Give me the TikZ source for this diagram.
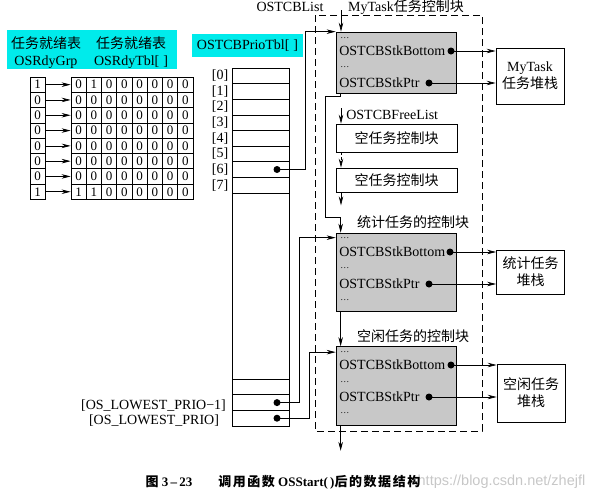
\documentclass[tikz,border=0pt]{standalone}
\usepackage{fontspec}
\setmainfont{Liberation Serif}
\setsansfont{Liberation Sans}
\newfontfamily\cjk{Noto Sans CJK SC}
\newfontfamily\cjkcap{Noto Sans CJK SC}[LetterSpace=12]
\usepackage{tikz}
\usetikzlibrary{arrows.meta}

\definecolor{lblcyan}{RGB}{0,235,235}
\definecolor{tcbgray}{RGB}{200,200,200}

\tikzset{
  cell/.style={draw, minimum width=15.25pt, minimum height=15.3pt, inner sep=0pt,
    font=\fontsize{13}{15}\selectfont},
  slot/.style={draw, minimum width=57pt, minimum height=15.625pt, inner sep=0pt},
  tcb/.style={draw, fill=tcbgray, minimum width=120pt, inner sep=0pt},
  freebox/.style={draw, minimum width=121pt, inner sep=0pt},
  stk/.style={draw, minimum width=68pt, inner sep=0pt, align=center},
  field/.style={anchor=west, inner sep=0pt},
  gap/.style={anchor=west, inner sep=0pt, font=\fontsize{9}{9}\selectfont},
  ptr/.style={circle, fill=black, inner sep=0pt, minimum size=7pt},
  lbl/.style={fill=lblcyan, inner sep=0pt},
  arr/.style={-{Stealth[length=9pt, width=4.5pt]}},
}

\begin{document}
\begin{tikzpicture}[x=1pt, y=-1pt, line width=0.7pt,
    font=\fontsize{14}{17}\selectfont]
    \useasboundingbox (0,0) rectangle (596,499);

    % Ready list labels
    \node[lbl, minimum width=170pt, minimum height=39pt] (rdylbl) at (92,49.5) {};
    \node[align=center] (grplbl) at (46,52.5) {{\cjk 任务就绪表}\\OSRdyGrp};
    \node[align=center] (tbllbl) at (131,52.5) {{\cjk 任务就绪表}\\OSRdyTbl[\;]};
    \node[lbl, minimum width=111pt, minimum height=23pt] (priolbl) at (247.5,45.5) {OSTCBPrioTbl[\;]};

    % OSRdyGrp and OSRdyTbl[]
    \foreach \r in {0,...,7} {
        \pgfmathtruncatemacro\g{(\r==0)||(\r==7)}
        \node[cell, minimum width=15pt] (grp\r) at (37.5,{84.65+15.3*\r}) {\g};
        \foreach \c in {0,...,7} {
            \pgfmathtruncatemacro\v{((\r==0)&&(\c==1))||((\r==7)&&(\c<2))}
            \node[cell] (tbl\r\c) at ({78.6+15.25*\c},{84.65+15.3*\r}) {\v};
        }
        \draw[arr] (grp\r) -- (tbl\r0);
    }

    % OSTCBPrioTbl[]
    \foreach \i in {0,...,7} {
        \node[slot] (prio\i) at (260.5,{75.8+15.625*\i}) {};
        \node[left, inner sep=3pt] (idx\i) at (prio\i.west) {[\i]};
    }
    \node[slot, minimum height=186pt] (priogap) at (260.5,286) {};
    \node[slot] (priox) at (260.5,387) {};
    \node[slot] (priolm) at (260.5,402.6) {};
    \node[slot] (priol) at (260.5,418.2) {};
    \node (lowlbl1) at (153.5,406) {[OS\_LOWEST\_PRIO−1]};
    \node (lowlbl2) at (154,421) {[OS\_LOWEST\_PRIO]};

    % Task control block list (dashed)
    \draw[dash pattern=on 7pt off 4pt] (315,15) rectangle (482,431);
    \node[inner sep=1pt] (tcblist) at (290,7) {OSTCBList};
    \node[inner sep=1pt] (mytaskname) at (406,7) {MyTask{\cjk 任务控制块}};

    % MyTask TCB
    \node[tcb, minimum height=61pt] (mytcb) at (396,62.5) {};
    \node[gap] (mydots1) at (340,38) {\ldots};
    \node[field] (mybot) at (339,51) {OSTCBStkBottom};
    \node[gap] (mydots2) at (340,67) {\ldots};
    \node[field] (myptr) at (339,83) {OSTCBStkPtr};
    \node[ptr] (mybotdot) at (451,51) {};
    \node[ptr] (myptrdot) at (429,83) {};
    \node[stk, minimum height=56pt] (mystk) at (530,76) {MyTask\\{\cjk 任务堆栈}};
    \draw[arr] (mybotdot.center) -- (mystk.west |- mybotdot);
    \draw[arr] (myptrdot.center) -- (mystk.west |- myptrdot);

    % Free list
    \node[field] (freelbl) at (346,115) {OSTCBFreeList};
    \node[freebox, minimum height=28pt] (free1) at (396.5,138) {\cjk 空任务控制块};
    \node[freebox, minimum height=24pt] (free2) at (396.5,180) {\cjk 空任务控制块};
    \coordinate (freetop) at (341,108);
    \draw[arr] (freetop) -- (freetop |- free1.north);
    \draw[arr, dash pattern=on 3pt off 2pt] (freetop |- free1.south) -- (freetop |- free2.north);
    \draw[arr] (freetop |- free2.south) -- ++(0,13);

    % Statistic task TCB
    \node (statname) at (413,222) {\cjk 统计任务的控制块};
    \node[tcb, minimum height=78pt] (stattcb) at (396,272) {};
    \node[gap] (stdots1) at (340,238) {\ldots};
    \node[field] (stbot) at (339,252) {OSTCBStkBottom};
    \node[gap] (stdots2) at (340,268) {\ldots};
    \node[field] (stptr) at (339,284) {OSTCBStkPtr};
    \node[gap] (stdots3) at (340,300) {\ldots};
    \node[ptr] (stbotdot) at (450,252) {};
    \node[ptr] (stptrdot) at (429,284) {};
    \node[stk, minimum height=44pt] (ststk) at (530.5,272) {{\cjk 统计任务}\\{\cjk 堆栈}};
    \draw[arr] (stbotdot.center) -- (ststk.west |- stbotdot);
    \draw[arr] (stptrdot.center) -- (ststk.west |- stptrdot);

    % Idle task TCB
    \node (idlename) at (413,336) {\cjk 空闲任务的控制块};
    \node[tcb, minimum height=79pt] (idletcb) at (396,386) {};
    \node[gap] (iddots1) at (340,352) {\ldots};
    \node[field] (idbot) at (339,365) {OSTCBStkBottom};
    \node[gap] (iddots2) at (340,382) {\ldots};
    \node[field] (idptr) at (339,397) {OSTCBStkPtr};
    \node[gap] (iddots3) at (340,413) {\ldots};
    \node[ptr] (idbotdot) at (451,365) {};
    \node[ptr] (idptrdot) at (429,397) {};
    \node[stk, minimum height=58pt] (idstk) at (531,393) {{\cjk 空闲任务}\\{\cjk 堆栈}};
    \draw[arr] (idbotdot.center) -- (idstk.west |- idbotdot);
    \draw[arr] (idptrdot.center) -- (idstk.west |- idptrdot);

    % TCB chain
    \coordinate (listtop) at (341,10);
    \draw[arr] (listtop) -- (listtop |- mytcb.north);
    \draw[arr] ([xshift=5pt]mytcb.south west) -- ++(0,3) -| (325,217) -| ([xshift=5pt]stattcb.north west);
    \draw[arr] ([xshift=5pt]stattcb.south west) -- ([xshift=5pt]idletcb.north west);
    \draw[arr] ([xshift=5pt]idletcb.south west) -- ++(0,25);

    % Pointers from OSTCBPrioTbl[]
    \node[ptr] (p6) at (277,169.5) {};
    \node[ptr] (plm) at (277,402.6) {};
    \node[ptr] (pl) at (277,418.2) {};
    \draw[arr] (p6.center) -- ++(28,0) |- (mytcb.north west);
    \draw[arr] (plm.center) -- ++(22,0) |- ([yshift=-5pt]stattcb.north west);
    \draw[arr] (pl.center) -- ++(32,0) |- ([yshift=-6pt]idletcb.north west);

    % Caption
    \node[anchor=east, text=black!22, font=\sffamily\fontsize{14.5}{17}\selectfont] (wmark) at (589,482) {https://blog.csdn.net/zhejfl};
    \node[anchor=west, font=\fontsize{13}{15}\selectfont\bfseries] (caption) at (142,482)
        {{\cjkcap 图} 3\,–\,23\qquad{\cjkcap 调用函数} OSStart(\,){\cjkcap 后的数据结构}};

\end{tikzpicture}
\end{document}
